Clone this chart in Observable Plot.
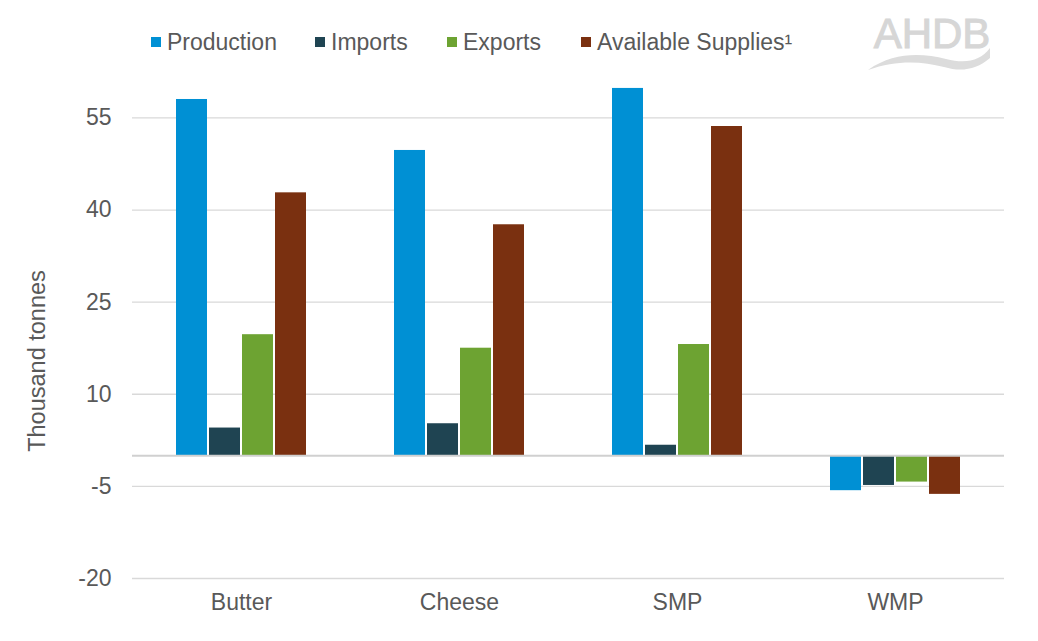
<!DOCTYPE html>
<html><head><meta charset="utf-8">
<script src="https://cdn.jsdelivr.net/npm/d3@7"></script>
<script src="https://cdn.jsdelivr.net/npm/@observablehq/plot@0.6"></script>
<style>
body{margin:0;background:#fff;font-family:"Liberation Sans",Arial,sans-serif;}
#wrap{position:relative;width:1038px;height:641px;overflow:hidden;}
#wrap svg.chart{position:absolute;left:0;top:0;}
.leg{position:absolute;top:30px;height:24px;display:flex;align-items:center;font-size:23px;color:#595959;white-space:nowrap;}
.leg i{display:inline-block;width:10px;height:10px;margin-right:6px;}
#ylab{position:absolute;left:37px;top:361px;transform:translate(-50%,-50%) rotate(-90deg);font-size:23.5px;color:#595959;white-space:nowrap;}
#logo{position:absolute;left:866px;top:8px;}
</style></head><body>
<div id="wrap"></div>
<script>
const categories = ["Butter", "Cheese", "SMP", "WMP"];
const series = ["Production", "Imports", "Exports", "Available Supplies¹"];
const production = [58.0, 49.7, 59.8, -5.7];
const imports = [4.5, 5.2, 1.7, -4.85];
const exportsV = [19.7, 17.5, 18.1, -4.3];
const available = [42.8, 37.6, 53.6, -6.3];
const yTicks = [-20, -5, 10, 25, 40, 55];
const colors = ["#0090d4", "#1f4452", "#6da332", "#7a3010"];

const valuesBySeries = [production, imports, exportsV, available];
const data = [];
categories.forEach((c, i) => series.forEach((s, j) => data.push({cat: c, series: s, value: valuesBySeries[j][i]})));

const chart = Plot.plot({
  width: 1038, height: 641,
  marginLeft: 130, marginRight: 33, marginTop: 56, marginBottom: 63,
  style: {fontFamily: '"Liberation Sans", Arial, sans-serif', fontSize: "23px", color: "#595959", background: "transparent"},
  fx: {domain: categories, padding: 0, label: null},
  x: {domain: series, paddingInner: 0.06, paddingOuter: 1.32, axis: null},
  y: {domain: [-20, 65]},
  color: {domain: series, range: colors},
  marks: [
    Plot.gridY(yTicks, {stroke: "#d9d9d9", strokeOpacity: 1, strokeWidth: 1.3}),
    Plot.axisY(yTicks, {tickSize: 0, tickPadding: 21, label: null, fontSize: 23, tickFormat: d => String(d)}),
    Plot.axisFx({anchor: "bottom", tickSize: 0, tickPadding: 15, label: null, fontSize: 23}),
    Plot.barY(data, {fx: "cat", x: "series", y: "value", fill: "series"}),
    Plot.ruleY([0], {stroke: "#d0d0d0", strokeWidth: 2})
  ]
});
chart.classList.add("chart");
const wrap = document.getElementById("wrap");
wrap.appendChild(chart);

// legend
const legX = [151, 315, 447, 581];
series.forEach((s, j) => {
  const d = document.createElement("div");
  d.className = "leg";
  d.style.left = legX[j] + "px";
  d.innerHTML = `<i style="background:${colors[j]}"></i>`;
  d.appendChild(document.createTextNode(s));
  wrap.appendChild(d);
});

const yl = document.createElement("div");
yl.id = "ylab";
yl.textContent = "Thousand tonnes";
wrap.appendChild(yl);

// logo
const logo = document.createElement("div");
logo.id = "logo";
logo.innerHTML = `<svg width="140" height="70" viewBox="0 0 140 70">
<text x="66" y="40" text-anchor="middle" font-family="Liberation Sans, Arial, sans-serif" font-size="42" fill="#d6d6d6" stroke="#d6d6d6" stroke-width="1">AHDB</text>
<path d="M2 62 C 28 44, 55 45, 80 51 C 100 56, 114 53, 124 40 L 124 50 C 110 62, 95 64, 78 59 C 55 53, 30 52, 2 62 Z" fill="#dcdcdc"/>
</svg>`;
wrap.appendChild(logo);
</script>
</body></html>
